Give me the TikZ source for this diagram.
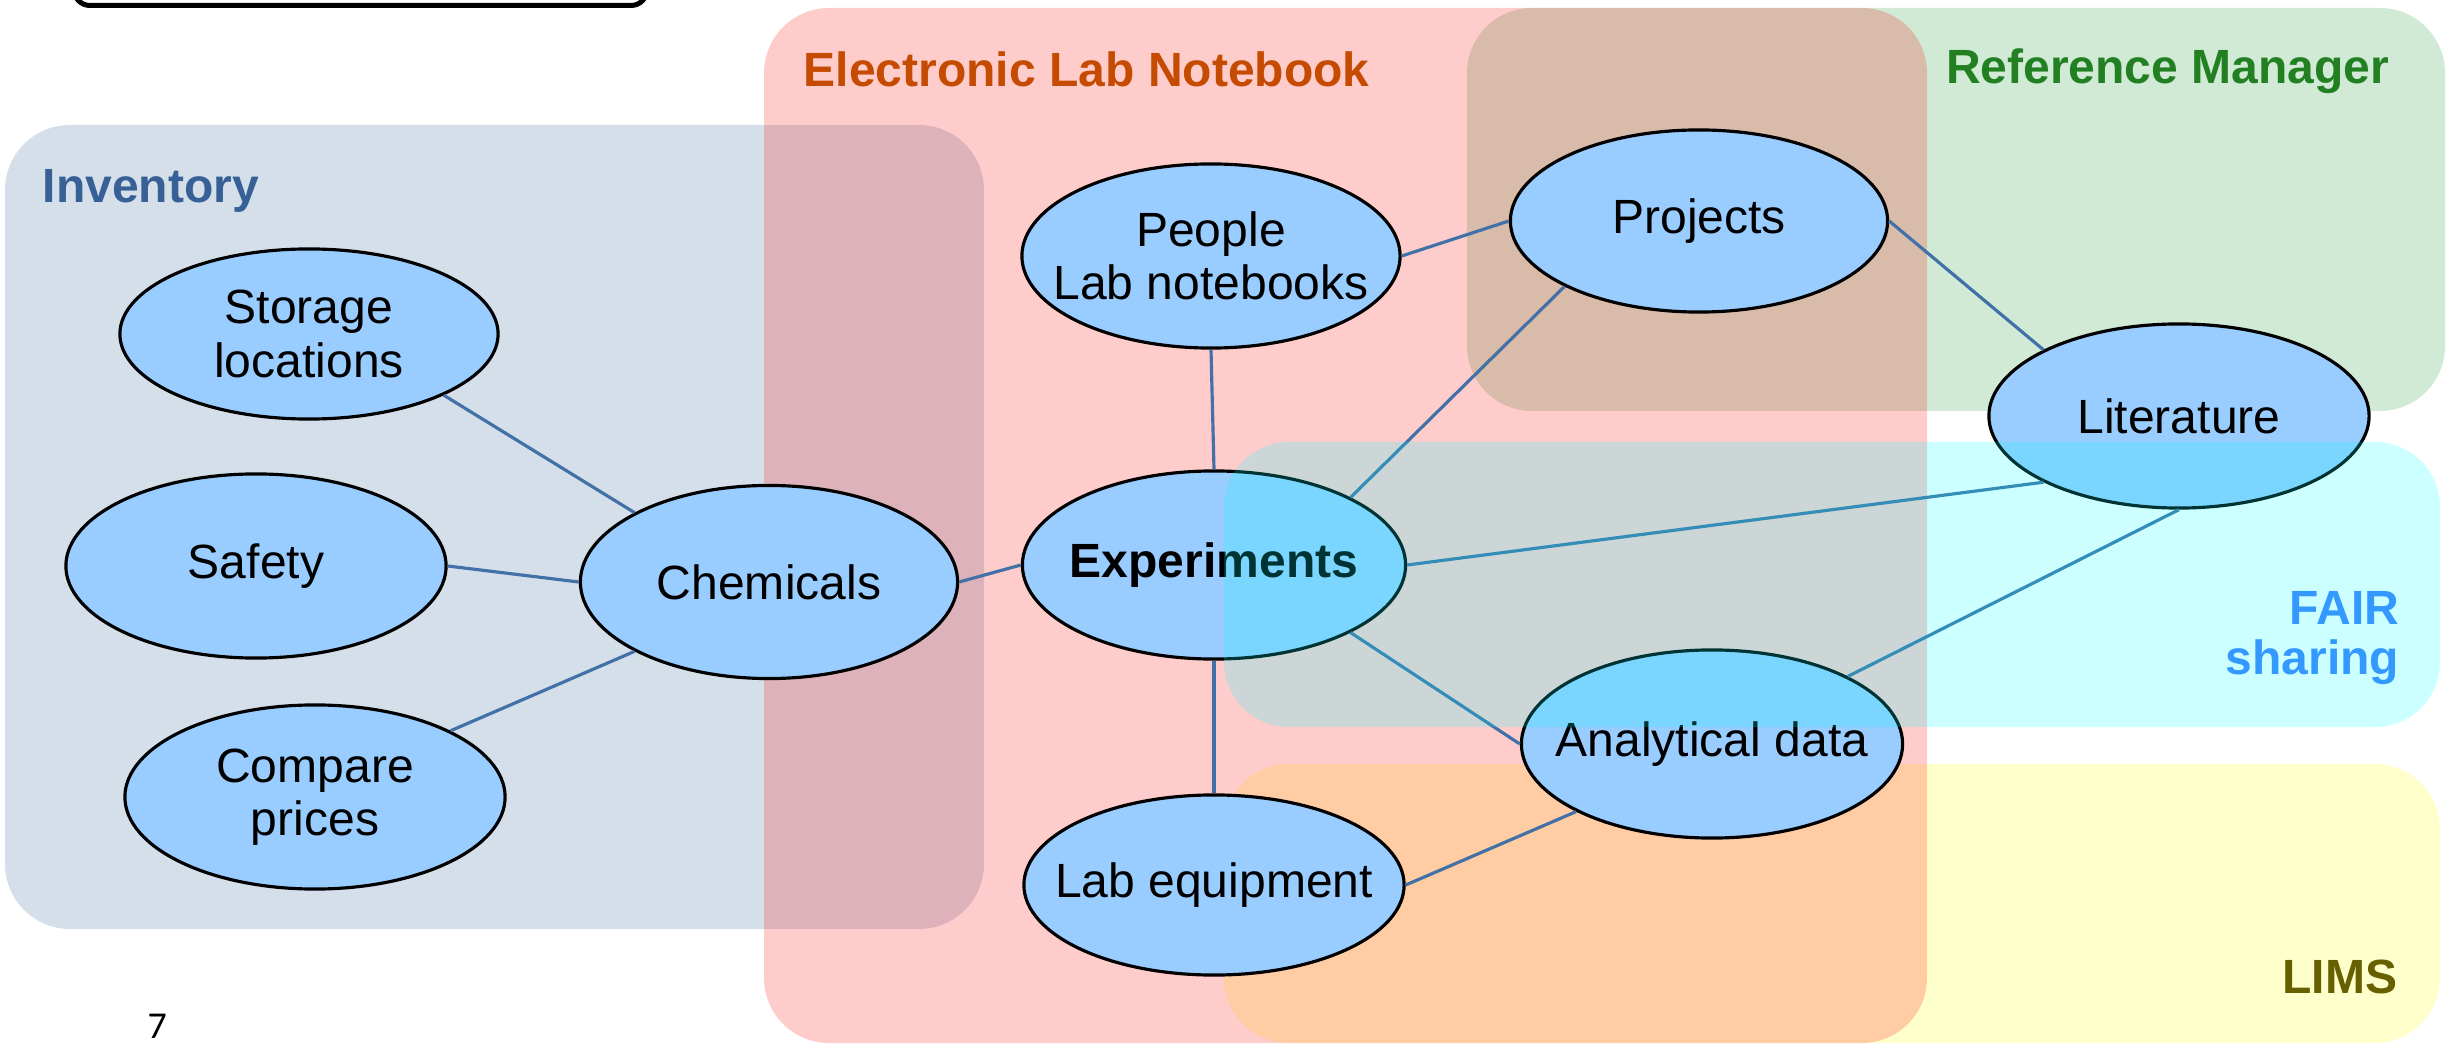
\documentclass[tikz,border=0pt]{standalone}
\usepackage{fontspec}
\setmainfont{Liberation Sans}
\newfontfamily\numfont{Carlito}
\usetikzlibrary{shapes.geometric}
\definecolor{invfill}{RGB}{213,223,234}
\definecolor{reffill}{RGB}{208,234,213}
\definecolor{limsfill}{RGB}{255,255,204}
\definecolor{elfill}{RGB}{153,204,255}
\definecolor{conncol}{RGB}{65,113,166}
\definecolor{invtext}{RGB}{54,96,150}
\definecolor{elntext}{RGB}{197,75,0}
\definecolor{reftext}{RGB}{34,128,34}
\definecolor{fairtext}{RGB}{51,153,255}
\definecolor{limstext}{RGB}{102,96,0}
\definecolor{elnred}{RGB}{255,0,0}
\definecolor{faircyan}{RGB}{0,255,255}
\begin{document}
\begin{tikzpicture}[x=0.01cm,y=-0.01cm,
  region/.style={rounded corners=0.65cm},
  eltext/.style={inner sep=0pt, align=center, font=\fontsize{13.66pt}{15.1pt}\selectfont},
  elbox/.style={ellipse, draw=black, line width=0.9pt, fill=elfill, inner sep=0pt,
    minimum width=3.8cm, minimum height=1.84cm},
  conn/.style={draw=conncol, line width=0.9pt},
  lbl/.style={font=\fontsize{13.66pt}{14.2pt}\selectfont\bfseries, inner sep=0pt}]
\useasboundingbox (0,0) rectangle (2460,1046);
% top-left cut box
\draw[line width=0.05cm, fill=white, rounded corners=0.16cm] (74,-60) rectangle (647,5.5);
% regions underneath
\fill[invfill, region] (5,125) rectangle (984,929);
\fill[reffill, region] (1467,8) rectangle (2445,411);
\fill[limsfill, region] (1224,764) rectangle (2440,1043);
\fill[elnred, opacity=0.2, region] (764,8) rectangle (1927,1043);
% region labels
\node[lbl, text=invtext, anchor=base west] (linv) at (42,203) {Inventory};
\node[lbl, text=elntext, anchor=base west] (leln) at (803,87) {Electronic Lab Notebook};
\node[lbl, text=reftext, anchor=base east] (lref) at (2390,84) {Reference Manager};
\node[lbl, text=limstext, anchor=base east] (llims) at (2398,993) {LIMS};
% ellipses
\node[elbox, minimum width=3.78cm, minimum height=1.70cm, label={[eltext]center:{Storage\\locations}}] (sto) at (309,334) {};
\node[elbox, label={[eltext]center:Safety}] (saf) at (256,566) {};
\node[elbox, label={[eltext]center:{Compare\\prices}}] (cmp) at (315,797) {};
\node[elbox, minimum width=3.77cm, minimum height=1.93cm, label={[eltext]center:Chemicals}] (chem) at (769,582) {};
\node[elbox, minimum width=3.78cm, label={[eltext]center:{People\\Lab notebooks}}] (ppl) at (1211,256) {};
\node[elbox, minimum width=3.83cm, minimum height=1.88cm, label={[eltext]center:{\bfseries Experiments}}] (exp) at (1214,565) {};
\node[elbox, minimum height=1.80cm, label={[eltext]center:Lab equipment}] (lab) at (1214,885) {};
\node[elbox, minimum width=3.77cm, minimum height=1.82cm, label={[eltext]center:Projects}] (prj) at (1699,221) {};
\node[elbox, label={[eltext]center:Literature}] (lit) at (2179,416) {};
\node[elbox, minimum width=3.81cm, minimum height=1.88cm, label={[eltext]center:Analytical data}] (ana) at (1712,744) {};
% connectors
\draw[conn] (sto.south east) -- (chem.north west);
\draw[conn] (saf.east) -- (chem.west);
\draw[conn] (cmp.north east) -- (chem.south west);
\draw[conn] (chem.east) -- (exp.west);
\draw[conn] (ppl.south) -- (exp.north);
\draw[conn] (ppl.east) -- (prj.west);
\draw[conn] (prj.south west) -- (exp.north east);
\draw[conn] (prj.east) -- (lit.north west);
\draw[conn] (exp.east) -- (lit.south west);
\draw[conn] (exp.south east) -- (ana.west);
\draw[conn] (exp.south) -- (lab.north);
\draw[conn] (lab.east) -- (ana.south west);
\draw[conn] (ana.north east) -- (lit.south);
% FAIR overlay
\fill[faircyan, opacity=0.2, region] (1224,442) rectangle (2440,727);
\node[lbl, text=fairtext, anchor=base east] (lfair) at (2400,624) {FAIR};
\node[lbl, text=fairtext, anchor=base east] (lshare) at (2400,674) {sharing};
% page number
\node[font=\numfont\fontsize{10.8pt}{12pt}\selectfont, inner sep=0pt, anchor=base west] (pnum) at (147,1038) {7};
\end{tikzpicture}
\end{document}
